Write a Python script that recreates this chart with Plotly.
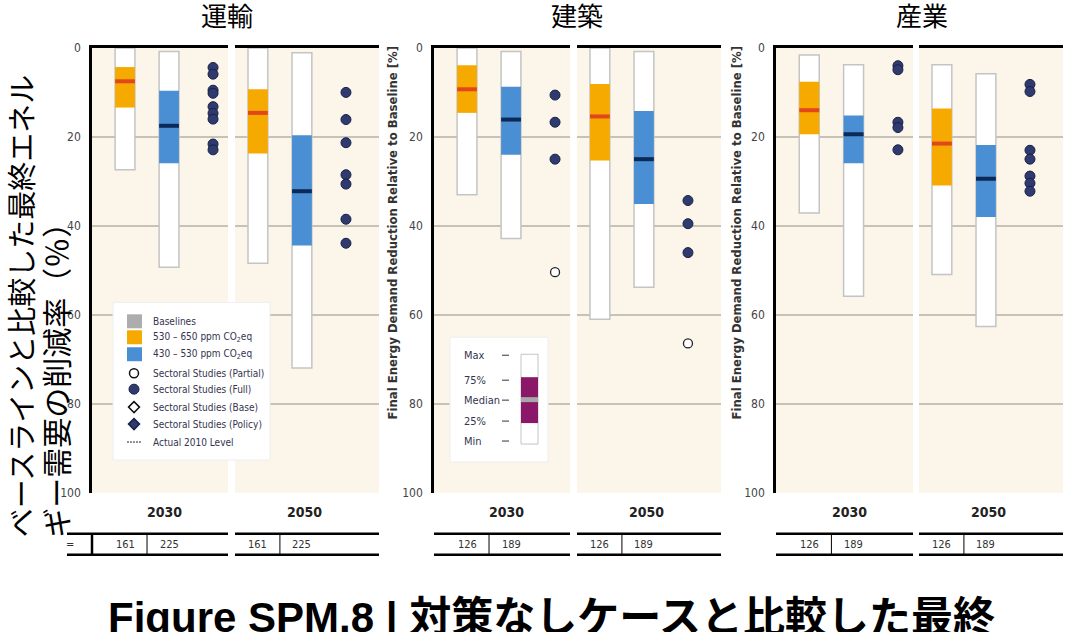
import plotly.graph_objects as go

W, H = 1065, 632

# ---------------- data ----------------
sectors = ["運輸", "建築", "産業"]
years = ["2030", "2050"]

# [min, 25%, median, 75%, max] final-energy demand reduction (%), per year [2030, 2050]
transport_530_650 = [[0.0, 4.3, 7.5, 13.4, 27.4], [0.0, 9.3, 14.6, 23.7, 48.4]]
transport_430_530 = [[0.8, 9.6, 17.5, 25.9, 49.3], [1.1, 19.6, 32.2, 44.4, 71.9]]
buildings_530_650 = [[0.0, 3.9, 9.3, 14.6, 33.0], [0.0, 8.1, 15.4, 25.3, 61.0]]
buildings_430_530 = [[0.8, 8.7, 16.1, 24.0, 42.8], [0.8, 14.2, 25.0, 35.1, 53.8]]
industry_530_650 = [[1.6, 7.6, 14.0, 19.4, 37.1], [3.8, 13.6, 21.5, 30.9, 50.9]]
industry_430_530 = [[3.8, 15.2, 19.4, 25.9, 55.8], [5.8, 21.8, 29.4, 38.0, 62.6]]

# sectoral studies (Full) and (Partial), per year [2030, 2050]
transport_full = [[4.4, 5.9, 9.5, 10.2, 13.2, 14.7, 16.0, 21.6, 22.9],
                  [10.0, 16.1, 21.3, 28.5, 30.6, 38.5, 43.9]]
transport_partial = [[], []]
buildings_full = [[10.6, 16.7, 25.0], [34.3, 39.5, 46.0]]
buildings_partial = [[50.4], [66.4]]
industry_full = [[4.0, 4.9, 16.7, 17.9, 22.9], [8.2, 9.8, 23.0, 25.0, 28.8, 30.4, 32.2]]
industry_partial = [[], []]

# number of scenarios [530-650, 430-530]
transport_n = [161, 225]
buildings_n = [126, 189]
industry_n = [126, 189]

yticks = [0, 20, 40, 60, 80, 100]

legend_labels = ["Baselines", "530 – 650 ppm CO<sub>2</sub>eq", "430 – 530 ppm CO<sub>2</sub>eq",
                 "Sectoral Studies (Partial)", "Sectoral Studies (Full)",
                 "Sectoral Studies (Base)", "Sectoral Studies (Policy)", "Actual 2010 Level"]
key_labels = ["Max", "75%", "Median", "25%", "Min"]

y_title_lines = ["ベースラインと比較した最終エネル", "ギー需要の削減率（％）"]
axis_title = "Final Energy Demand Reduction Relative to Baseline [%]"
footer = "Figure SPM.8 | 対策なしケースと比較した最終"

# ---------------- styling ----------------
ORANGE = "#F6AA00"
ORANGE_MED = "#E2461B"
BLUE = "#4A8FD3"
BLUE_MED = "#0B2A57"
DOT = "#2F3A6E"
DOT_EDGE = "#1A2046"
BG = "#FCF6EA"
GRID = "#C7C2B8"
NARROW = "Liberation Sans Narrow, DejaVu Sans Condensed, Roboto Condensed, Roboto, sans-serif"
CJK = "Noto Sans CJK JP"

# vertical calibration of the capture
VS, VO = 0.98, 6.0

def px(x):
    return x / W

def py(y):
    return 1 - ((y - VO) / VS) / H

x_dom_px = [(92, 228), (235, 379), (434, 570), (577, 721), (776, 913), (919, 1063)]
x_ranges = [[-0.75, 2.34], [-0.52, 2.75]]
y_dom = [py(493), py(47)]
BW = 0.45

sector_530 = [transport_530_650, buildings_530_650, industry_530_650]
sector_430 = [transport_430_530, buildings_430_530, industry_430_530]
sector_full = [transport_full, buildings_full, industry_full]
sector_partial = [transport_partial, buildings_partial, industry_partial]
sector_n = [transport_n, buildings_n, industry_n]

fig = go.Figure()
layout_axes = {}
annotations = []
shapes = []

for s in range(3):
    for j in range(2):
        k = 2 * s + j + 1
        xa = "x" if k == 1 else f"x{k}"
        ya = "y" if k == 1 else f"y{k}"
        for col, (stats, fill, med_c) in enumerate([(sector_530[s][j], ORANGE, ORANGE_MED),
                                                    (sector_430[s][j], BLUE, BLUE_MED)]):
            mn, q1, md, q3, mx = stats
            fig.add_trace(go.Bar(x=[col], base=[mn], y=[mx - mn], width=BW,
                                 marker=dict(color="white", line=dict(color="#C4C4C4", width=1.5)),
                                 xaxis=xa, yaxis=ya, showlegend=False, hoverinfo="skip"))
            fig.add_trace(go.Bar(x=[col], base=[q1], y=[q3 - q1], width=BW,
                                 marker=dict(color=fill, line=dict(width=0)),
                                 xaxis=xa, yaxis=ya, showlegend=False, hoverinfo="skip"))
            fig.add_trace(go.Bar(x=[col], base=[md - 0.45], y=[0.9], width=BW,
                                 marker=dict(color=med_c, line=dict(width=0)),
                                 xaxis=xa, yaxis=ya, showlegend=False, hoverinfo="skip"))
        full = sector_full[s][j]
        if full:
            fig.add_trace(go.Scatter(x=[2] * len(full), y=full, mode="markers",
                                     marker=dict(size=10, color=DOT, line=dict(color=DOT_EDGE, width=1)),
                                     xaxis=xa, yaxis=ya, showlegend=False, hoverinfo="skip"))
        part = sector_partial[s][j]
        if part:
            fig.add_trace(go.Scatter(x=[2] * len(part), y=part, mode="markers",
                                     marker=dict(size=9, color="white", line=dict(color="#222222", width=1.3)),
                                     xaxis=xa, yaxis=ya, showlegend=False, hoverinfo="skip"))

        x0, x1 = x_dom_px[k - 1]
        layout_axes["xaxis" if k == 1 else f"xaxis{k}"] = dict(
            domain=[px(x0), px(x1)], range=x_ranges[j], showgrid=False, zeroline=False,
            showticklabels=False, ticks="", showline=True, linecolor="black", linewidth=2.5,
            side="top", anchor=ya, fixedrange=True)
        layout_axes["yaxis" if k == 1 else f"yaxis{k}"] = dict(
            domain=y_dom, range=[100, 0], tickvals=yticks, showgrid=True, gridcolor=GRID,
            gridwidth=1.5, zeroline=False, showline=(j == 0), linecolor="black", linewidth=2.5,
            showticklabels=(j == 0), ticks="", ticklabelstandoff=6,
            tickfont=dict(family=NARROW, size=12, color="#444444"), anchor=xa, fixedrange=True)

        # year label
        annotations.append(dict(x=0.9 if j == 0 else 1.05, y=py(512), xref=xa, yref="paper",
                                text=f"<b>{years[j]}</b>", showarrow=False,
                                font=dict(family=NARROW, size=14, color="#222222"),
                                xanchor="center", yanchor="middle"))
        # scenario count table
        for col in range(2):
            annotations.append(dict(x=col, y=py(545), xref=xa, yref="paper",
                                    text=str(sector_n[s][col]), showarrow=False,
                                    font=dict(family=NARROW, size=11, color="#333333"),
                                    xanchor="center", yanchor="middle"))
        tx0 = 67 if k == 1 else x0
        for yy in (534, 555):
            shapes.append(dict(type="line", xref="paper", yref="paper", x0=px(tx0), x1=px(x1),
                               y0=py(yy), y1=py(yy), line=dict(color="black", width=2.5)))
        shapes.append(dict(type="line", xref=xa, yref="paper", x0=0.5, x1=0.5,
                           y0=py(534), y1=py(555), line=dict(color="black", width=1)))

    # sector titles
    annotations.append(dict(x=px([227, 577, 922][s]), y=py(14), xref="paper", yref="paper",
                            text=sectors[s], showarrow=False, borderpad=0,
                            font=dict(family=CJK, size=26, color="black"),
                            xanchor="center", yanchor="middle"))

# thick vertical in first table
shapes.append(dict(type="line", xref="paper", yref="paper", x0=px(92), x1=px(92),
                   y0=py(534), y1=py(555), line=dict(color="black", width=2.5)))
annotations.append(dict(x=px(70), y=py(545), xref="paper", yref="paper", text="=",
                        showarrow=False, font=dict(family=NARROW, size=11, color="#333"),
                        xanchor="center", yanchor="middle"))

# rotated english axis titles (panels 2 and 3)
for xc in (393, 737):
    annotations.append(dict(x=px(xc), y=py(232), xref="paper", yref="paper",
                            text=f"<b>{axis_title}</b>", textangle=-90, showarrow=False,
                            font=dict(family=NARROW, size=13, color="#333333"),
                            xanchor="center", yanchor="middle"))

# Japanese y title (two rotated lines, bottom-aligned)
annotations.append(dict(x=px(20), y=py(540), xref="paper", yref="paper", text=y_title_lines[0],
                        textangle=-90, showarrow=False, font=dict(family=CJK, size=29, color="black"),
                        xanchor="center", yanchor="bottom"))
annotations.append(dict(x=px(55), y=py(540), xref="paper", yref="paper", text=y_title_lines[1],
                        textangle=-90, showarrow=False, font=dict(family=CJK, size=30, color="black"),
                        xanchor="center", yanchor="bottom"))

# footer
annotations.append(dict(x=px(551), y=py(618), xref="paper", yref="paper", text=f"<b>{footer}</b>",
                        showarrow=False, font=dict(family="Liberation Sans, Noto Sans CJK JP", size=42,
                                                   color="black"),
                        xanchor="center", yanchor="middle"))

# ---- legend box (panel 1) ----
shapes.append(dict(type="rect", xref="paper", yref="paper", x0=px(113), x1=px(270),
                   y0=py(460), y1=py(302), fillcolor="white", line=dict(color="#EEEEEE", width=1),
                   layer="above"))
leg_y = [321, 337, 354, 373, 389, 407, 424, 442]
for (c, yy) in zip(["#ADADAD", ORANGE, BLUE], leg_y[:3]):
    shapes.append(dict(type="rect", xref="paper", yref="paper", x0=px(127), x1=px(142),
                       y0=py(yy + 7), y1=py(yy - 7), fillcolor=c, line=dict(width=0), layer="above"))
cx = 134
r = 4.5
shapes.append(dict(type="circle", xref="paper", yref="paper", x0=px(cx - r), x1=px(cx + r),
                   y0=py(leg_y[3] + r), y1=py(leg_y[3] - r), fillcolor="white",
                   line=dict(color="#111111", width=1.5), layer="above"))
shapes.append(dict(type="circle", xref="paper", yref="paper", x0=px(cx - 5), x1=px(cx + 5),
                   y0=py(leg_y[4] + 5), y1=py(leg_y[4] - 5), fillcolor=DOT,
                   line=dict(color=DOT_EDGE, width=1), layer="above"))
def diamond(yc, fill, edge):
    d = 5.5
    path = (f"M {px(cx)} {py(yc - d)} L {px(cx + d)} {py(yc)} L {px(cx)} {py(yc + d)} "
            f"L {px(cx - d)} {py(yc)} Z")
    return dict(type="path", xref="paper", yref="paper", path=path, fillcolor=fill,
                line=dict(color=edge, width=1.5), layer="above")
shapes.append(diamond(leg_y[5], "white", "#111111"))
shapes.append(diamond(leg_y[6], DOT, DOT_EDGE))
shapes.append(dict(type="line", xref="paper", yref="paper", x0=px(127), x1=px(142),
                   y0=py(leg_y[7]), y1=py(leg_y[7]), line=dict(color="#222222", width=1, dash="2px,1px"),
                   layer="above"))
for lab, yy in zip(legend_labels, leg_y):
    annotations.append(dict(x=px(151), y=py(yy), xref="paper", yref="paper", text=lab,
                            showarrow=False, font=dict(family=NARROW, size=10, color="#34344F"),
                            xanchor="left", yanchor="middle"))

# ---- box key (panel 2) ----
shapes.append(dict(type="rect", xref="paper", yref="paper", x0=px(450), x1=px(548),
                   y0=py(462), y1=py(337), fillcolor="white", line=dict(color="#EEEEEE", width=1),
                   layer="above"))
shapes.append(dict(type="rect", xref="paper", yref="paper", x0=px(521), x1=px(538),
                   y0=py(444), y1=py(354), fillcolor="white", line=dict(color="#C4C4C4", width=1),
                   layer="above"))
shapes.append(dict(type="rect", xref="paper", yref="paper", x0=px(521), x1=px(538),
                   y0=py(423), y1=py(377), fillcolor="#8B1768", line=dict(width=0), layer="above"))
shapes.append(dict(type="rect", xref="paper", yref="paper", x0=px(521), x1=px(538),
                   y0=py(402), y1=py(397), fillcolor="#A8A8A8", line=dict(width=0), layer="above"))
key_y = [355, 380, 400, 421, 441]
for lab, yy in zip(key_labels, key_y):
    annotations.append(dict(x=px(462), y=py(yy), xref="paper", yref="paper", text=lab,
                            showarrow=False, font=dict(family=NARROW, size=11, color="#34344F"),
                            xanchor="left", yanchor="middle"))
    shapes.append(dict(type="line", xref="paper", yref="paper", x0=px(502), x1=px(509),
                       y0=py(yy), y1=py(yy), line=dict(color="#333333", width=1), layer="above"))

fig.update_layout(
    width=W, height=H, margin=dict(l=0, r=0, t=0, b=0),
    paper_bgcolor="white", plot_bgcolor=BG, barmode="overlay", showlegend=False,
    annotations=annotations, shapes=shapes, **layout_axes)

fig.write_html("out.html")
